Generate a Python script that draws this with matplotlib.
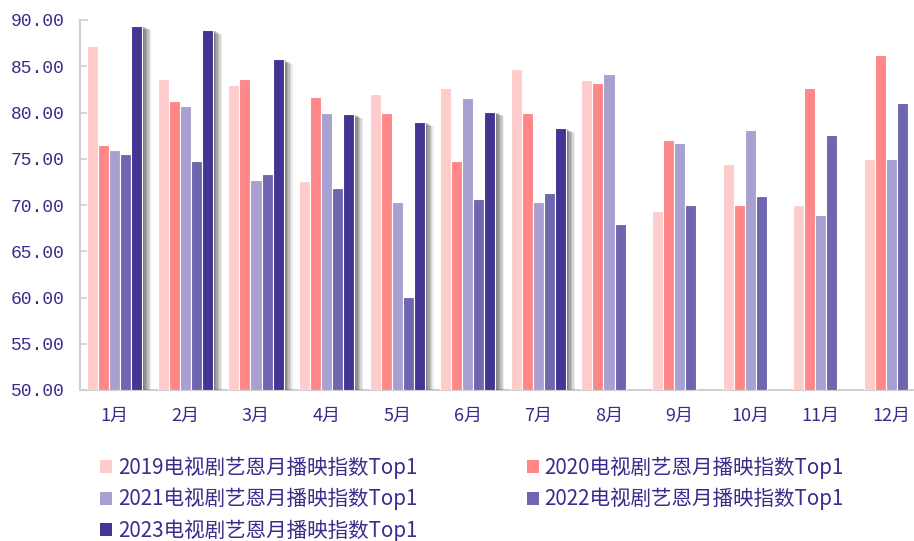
import matplotlib
matplotlib.use("Agg")
import matplotlib.pyplot as plt
import matplotlib.patheffects as pe
from matplotlib.patches import Patch
import numpy as np

plt.rcParams['font.family'] = ['Noto Sans CJK SC', 'DejaVu Sans']

months = ['1月', '2月', '3月', '4月', '5月', '6月', '7月', '8月', '9月', '10月', '11月', '12月']
series_names = ['2019电视剧艺恩月播映指数Top1', '2020电视剧艺恩月播映指数Top1',
                '2021电视剧艺恩月播映指数Top1', '2022电视剧艺恩月播映指数Top1',
                '2023电视剧艺恩月播映指数Top1']
v2019 = [87.2, 83.6, 83.0, 72.6, 82.05, 82.6, 84.75, 83.5, 69.3, 74.4, 70.0, 74.95]
v2020 = [76.5, 81.2, 83.6, 81.7, 80.0, 74.8, 79.9, 83.2, 77.0, 70.0, 82.7, 86.2]
v2021 = [75.9, 80.7, 72.65, 80.0, 70.3, 81.6, 70.3, 84.2, 76.7, 78.1, 68.9, 74.95]
v2022 = [75.5, 74.8, 73.3, 71.8, 60.05, 70.6, 71.35, 67.9, 70.0, 71.0, 77.55, 81.0]
v2023 = [89.4, 88.95, 85.75, 79.85, 79.0, 80.1, 78.3]
colors = ['#FFCCCC', '#FF8787', '#A8A0D0', '#6F66B0', '#433594']
text_color = '#3A2B8C'

series = [v2019, v2020, v2021, v2022, v2023]

fig = plt.figure(figsize=(9.14, 5.41), dpi=100)
W, H = 914, 541
ax_left, ax_top, ax_bottom = 79.5, 20, 390
cat_w = 70.6
ax = fig.add_axes([ax_left / W, (H - ax_bottom) / H, 12 * cat_w / W, (ax_bottom - ax_top) / H])

x = np.arange(len(months))
bw = 0.156
# soft drop shadow built from stacked translucent offsets
shadow = [pe.SimplePatchShadow(offset=(d, -d * 0.5), shadow_rgbFace='#505050', alpha=a)
          for d, a in ((6.5, 0.10), (5.5, 0.14), (4.5, 0.18), (3.5, 0.22),
                       (2.5, 0.26), (1.5, 0.3))] + [pe.Normal()]

for i, (vals, c) in enumerate(zip(series, colors)):
    xs = x[:len(vals)] + (i - 2) * bw
    bars = ax.bar(xs, np.array(vals) - 50, bottom=50, width=bw, color=c,
                  edgecolor='white', linewidth=0.8, zorder=3)
    if i == 4:
        for b in bars:
            b.set_path_effects(shadow)

ax.set_xlim(-0.5, 11.5)
ax.set_ylim(50, 90)
ax.set_yticks(np.arange(50, 90.1, 5))
ax.set_yticklabels([f'{v:.2f}' for v in np.arange(50, 90.1, 5)],
                   family=['Liberation Mono', 'DejaVu Sans Mono'], fontsize=13, color=text_color)
ax.set_xticks(x)
ax.set_xticklabels(months, fontsize=13, color=text_color)
ax.tick_params(axis='y', direction='in', length=6, width=1.2, color='#D0D0D0', pad=11)
ax.tick_params(axis='x', length=0, pad=12)
for s in ('top', 'right'):
    ax.spines[s].set_visible(False)
for s in ('left', 'bottom'):
    ax.spines[s].set_color('#D0D0D0')
    ax.spines[s].set_linewidth(1.5)

handles = [Patch(facecolor=c, edgecolor='none', label=n) for c, n in zip(colors, series_names)]
order = [0, 2, 4, 1, 3]
leg = fig.legend([handles[k] for k in order], [series_names[k] for k in order],
                 ncol=2, loc='upper left', bbox_to_anchor=(100 / W, 1 - 456 / H),
                 frameon=False, fontsize=14.8, handlelength=0.6, handleheight=0.6,
                 handletextpad=0.28, columnspacing=5.3, labelspacing=0.45,
                 borderaxespad=0, borderpad=0)
for t in leg.get_texts():
    t.set_color(text_color)

fig.savefig('out.png', dpi=100)
